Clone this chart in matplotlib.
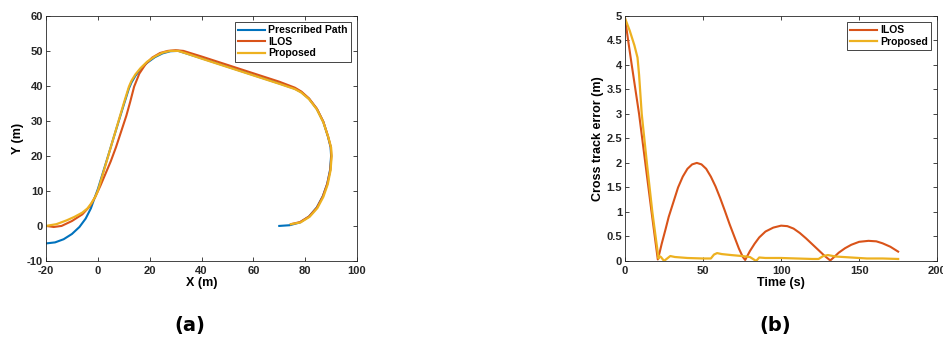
import matplotlib
matplotlib.use("Agg")
import matplotlib.pyplot as plt
from matplotlib.ticker import FormatStrFormatter

plt.rcParams['font.family'] = ['Liberation Sans', 'DejaVu Sans']
plt.rcParams['font.weight'] = 'bold'
plt.rcParams['axes.unicode_minus'] = False

# colours (MATLAB defaults)
c_blue = '#0072BD'
c_red = '#D95319'
c_yel = '#EDB120'

# ---- (a) trajectories ----
path_x = [-20, -16.5, -13.2, -10, -7.1, -4.7, -2.7, -1.5, 0, 2, 4, 6, 8, 10, 12, 13,
          14.5, 16.5, 19, 22, 25, 28, 31, 34, 40, 50, 60, 70, 76, 78.5, 81.5, 84.5,
          87, 88.8, 89.8, 90, 89.6, 88.5, 86.8, 84.5, 81.5, 78, 74, 70]
path_y = [-5, -4.7, -3.8, -2.3, -0.3, 2.1, 5, 7.5, 10.5, 15.3, 20.1, 25, 29.8, 34.6,
          39.3, 41, 42.9, 44.8, 46.6, 48.2, 49.3, 49.9, 50, 49.3, 47.9, 45.5, 43.1,
          40.7, 39.2, 38.2, 36.3, 33.4, 29.7, 25.5, 22.5, 20, 16, 12, 8.5, 5.3, 2.7,
          1.0, 0.2, 0]

ilos_x = [-20, -17, -14, -10, -6, -3, -1, 1, 3, 5, 7, 9, 11, 12.5, 14, 16, 18.5,
          21, 24, 27, 30, 33, 40, 50, 60, 70, 76, 78.5, 81.5, 84.5, 87, 88.8, 89.9,
          90.1, 89.7, 88.5, 86.8, 84.5, 81.5, 78, 74.5]
ilos_y = [0, -0.3, 0, 1.4, 3.3, 5.7, 8.3, 11.5, 15, 18.5, 22.5, 27, 31.5, 35.5,
          39.8, 43.5, 46.3, 48.1, 49.4, 50, 50.2, 50, 48.4, 46, 43.6, 41.2, 39.5,
          38.4, 36.4, 33.5, 29.8, 25.6, 22.5, 20, 16, 12, 8.4, 5.2, 2.7, 1.1, 0.5]

prop_x = [-20, -16, -12, -9, -6, -4, -2.5, -1, 0, 2, 4, 6, 8, 10, 12, 13, 14.5,
          16.5, 19, 22, 25, 28, 31, 34, 40, 50, 60, 70, 76, 78.5, 81.5, 84.5, 87,
          88.9, 90, 90.2, 89.8, 88.7, 87, 84.7, 81.7, 78.2, 74.5]
prop_y = [0, 0.5, 1.6, 2.6, 3.8, 5, 6.5, 8.3, 10, 15, 20, 25, 30, 35, 39.8, 41.5,
          43.3, 45.1, 46.9, 48.4, 49.5, 50, 50, 49.3, 47.8, 45.4, 43, 40.6, 39.1,
          38.1, 36.2, 33.3, 29.6, 25.4, 22.4, 19.9, 15.9, 11.9, 8.3, 5.1, 2.6, 1.0,
          0.5]

# ---- (b) cross track error ----
t_ilos = [0, 2, 4.3, 9, 13, 17, 21, 22, 23.5, 26, 28, 31, 34, 37, 40, 43, 46, 49,
          52, 55, 58, 61, 64, 67, 70, 73, 75.5, 77, 78, 80, 83, 86, 90, 95, 100,
          104, 108, 112, 116, 120, 124, 128, 131.5, 134, 137, 141, 145, 150, 156,
          161, 165, 170, 175]
e_ilos = [4.95, 4.5, 4.0, 3.0, 2.0, 1.0, 0.03, 0.15, 0.35, 0.65, 0.9, 1.2, 1.5,
          1.72, 1.88, 1.97, 2.0, 1.97, 1.88, 1.72, 1.52, 1.28, 1.02, 0.75, 0.5, 0.25,
          0.08, 0.02, 0.08, 0.2, 0.35, 0.48, 0.6, 0.68, 0.72, 0.71, 0.66, 0.57, 0.46,
          0.34, 0.22, 0.1, 0.01, 0.08, 0.17, 0.26, 0.33, 0.39, 0.41, 0.4, 0.36, 0.29,
          0.19]

t_prop = [0, 3, 6, 8, 9, 10.7, 14, 17.5, 20, 21.5, 22, 23, 25, 27, 29, 32, 40, 50,
          55, 57, 59, 62, 68, 75, 80, 84, 86, 90, 100, 110, 120, 124, 127, 130, 135,
          145, 155, 165, 175]
e_prop = [4.95, 4.7, 4.4, 4.15, 3.8, 3.0, 2.0, 1.0, 0.4, 0.05, 0.1, 0.08, 0.0, 0.05,
          0.1, 0.08, 0.06, 0.05, 0.05, 0.13, 0.16, 0.14, 0.12, 0.1, 0.08, 0.0, 0.07,
          0.06, 0.06, 0.05, 0.04, 0.04, 0.1, 0.12, 0.09, 0.07, 0.05, 0.05, 0.04]

fig = plt.figure(figsize=(9.43, 3.38), dpi=100)
ax1 = fig.add_axes([0.0488, 0.228, 0.3298, 0.725])
ax2 = fig.add_axes([0.6628, 0.228, 0.331, 0.725])

ax1.plot(path_x, path_y, color=c_blue, lw=1.5, label='Prescribed Path')
ax1.plot(ilos_x, ilos_y, color=c_red, lw=1.5, label='ILOS')
ax1.plot(prop_x, prop_y, color=c_yel, lw=1.6, label='Proposed')
ax1.set_xlim(-20, 100)
ax1.set_ylim(-10, 60)
ax1.set_xticks(range(-20, 101, 20))
ax1.set_yticks(range(-10, 61, 10))
ax1.set_xlabel('X (m)', fontsize=9, fontweight='bold', labelpad=1)
ax1.set_ylabel('Y (m)', fontsize=9, fontweight='bold', labelpad=2)

ax2.plot(t_ilos, e_ilos, color=c_red, lw=1.5, label='ILOS')
ax2.plot(t_prop, e_prop, color=c_yel, lw=1.6, label='Proposed')
ax2.set_xlim(0, 200)
ax2.set_ylim(0, 5)
ax2.set_xticks(range(0, 201, 50))
ax2.set_yticks([i * 0.5 for i in range(11)])
ax2.yaxis.set_major_formatter(FormatStrFormatter('%g'))
ax2.set_xlabel('Time (s)', fontsize=9, fontweight='bold', labelpad=1)
ax2.set_ylabel('Cross track error (m)', fontsize=9, fontweight='bold', labelpad=2)

for ax in (ax1, ax2):
    ax.tick_params(direction='in', top=True, right=True, length=3, width=0.6,
                   labelsize=8, colors='#262626', pad=2)
    ax.tick_params(axis='x', pad=3.5)
    for s in ax.spines.values():
        s.set_linewidth(0.6)
        s.set_color('#262626')
    for lab in ax.get_xticklabels() + ax.get_yticklabels():
        lab.set_fontweight('bold')
    leg = ax.legend(loc='upper right', fontsize=7.5, fancybox=False, framealpha=1,
                    edgecolor='#262626', borderpad=0.3, labelspacing=0.15,
                    handlelength=2.6, handletextpad=0.3, borderaxespad=0.6)
    leg.get_frame().set_linewidth(0.6)
    for t in leg.get_texts():
        t.set_fontweight('bold')

fig.text(0.2015, 0.02, '(a)', fontsize=14, fontweight='bold', ha='center',
         family='DejaVu Sans')
fig.text(0.822, 0.02, '(b)', fontsize=14, fontweight='bold', ha='center',
         family='DejaVu Sans')

fig.savefig('out.png', dpi=100)
